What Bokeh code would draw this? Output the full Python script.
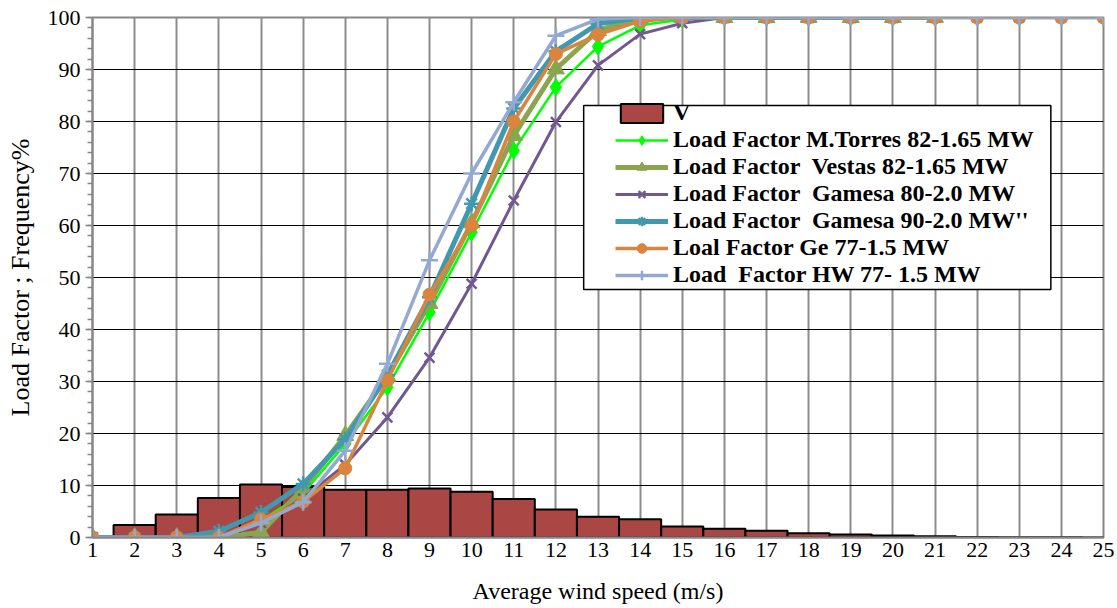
from bokeh.plotting import figure
from bokeh.models import (Range1d, SingleIntervalTicker, FixedTicker, Legend,
                          LegendItem, BoxAnnotation)
from bokeh.embed import file_html
from bokeh.resources import INLINE

# ---------------- data ----------------
wind_speed = list(range(1, 26))
freq_v = [0.3, 2.4, 4.4, 7.6, 10.2, 9.7, 9.2, 9.2, 9.4, 8.8, 7.4, 5.4, 4.0,
          3.5, 2.1, 1.7, 1.3, 0.8, 0.6, 0.4, 0.25, 0.1, 0.05, 0.03, 0.02]

lf_mtorres = [0, 0, 0, 0, 3.2, 8.5, 18.0, 28.9, 43.3, 58.7, 74.4, 86.6, 94.4,
              98.5, 99.6, 100, 100, 100, 100, 100, 100, 100, 100, 100, 100]
lf_vestas = [0, 0, 0, 0, 1.0, 9.4, 19.6, 31.0, 45.0, 60.5, 77.3, 90.1, 97.5,
             100, 100, 100, 100, 100, 100, 100, 100]
lf_gamesa80 = [0, 0, 0, 0, 2.8, 7.5, 14.0, 23.1, 34.6, 48.8, 64.8, 79.9, 90.8,
               96.8, 98.9, 100, 100, 100, 100, 100, 100, 100, 100, 100, 100]
lf_gamesa90 = [0, 0, 0, 1.2, 4.8, 10.3, 18.9, 31.2, 46.2, 64.2, 82.5, 93.5, 98.8,
               100, 100, 100, 100, 100, 100, 100]
lf_ge = [0, 0, 0, 0, 3.5, 6.9, 13.3, 30.2, 46.7, 60.0, 80.0, 93.0, 96.7,
         99.3, 100, 100, 100, 100, 100, 100, 100, 100, 100, 100, 100]
lf_hw = [0, 0, 0, 0, 2.8, 6.8, 16.7, 33.4, 53.3, 70.0, 83.7, 96.5, 99.7,
         100, 100, 100, 100, 100, 100, 100, 100, 100, 100, 100, 100]

labels = ["V",
          "Load Factor M.Torres 82-1.65 MW",
          "Load Factor  Vestas 82-1.65 MW",
          "Load Factor  Gamesa 80-2.0 MW",
          "Load Factor  Gamesa 90-2.0 MW''",
          "Loal Factor Ge 77-1.5 MW",
          "Load  Factor HW 77- 1.5 MW"]

x_label = "Average wind speed (m/s)"
y_label = "Load Factor ; Frequency%"

# legend box extent (data units)
legend_box = dict(left=12.66, right=23.75, bottom=47.7, top=83.1)

FONT = "Liberation Serif"

p = figure(width=1115, height=608, output_backend="svg", toolbar_location=None,
           x_range=Range1d(1, 25), y_range=Range1d(0, 100),
           min_border_left=92, min_border_right=12, min_border_top=17,
           min_border_bottom=71)

p.outline_line_color = "#868686"
p.outline_line_width = 2
p.background_fill_color = "white"

# grids
p.xgrid.ticker = FixedTicker(ticks=wind_speed)
p.xgrid.grid_line_color = "#8c8c8c"
p.xgrid.grid_line_width = 2
p.ygrid.grid_line_color = "black"
p.ygrid.grid_line_width = 1

# axes
p.xaxis.ticker = FixedTicker(ticks=wind_speed)
p.yaxis.ticker = SingleIntervalTicker(interval=10, num_minor_ticks=5)
for ax in (p.xaxis[0], p.yaxis[0]):
    ax.major_label_text_font = FONT
    ax.major_label_text_font_size = "22px"
    ax.major_label_text_color = "black"
    ax.major_label_text_line_height = 1.0
    ax.axis_label_text_font = FONT
    ax.axis_label_text_font_style = "normal"
    ax.axis_label_text_color = "black"
    ax.axis_label_text_line_height = 1.0
    ax.axis_line_color = "#868686"
    ax.axis_line_width = 2
    ax.major_tick_line_color = "#868686"
    ax.minor_tick_line_color = "#868686"
    ax.major_tick_line_width = 1.5
    ax.minor_tick_line_width = 1.5

p.xaxis.axis_label = x_label
p.yaxis.axis_label = y_label
p.xaxis.axis_label_text_font_size = "24px"
p.yaxis.axis_label_text_font_size = "26px"
p.xaxis.major_tick_out = 0
p.xaxis.major_tick_in = 0
p.xaxis.minor_tick_out = 0
p.xaxis.minor_tick_in = 0
p.xaxis.major_label_standoff = 5
p.xaxis.axis_label_standoff = 18
p.yaxis.major_tick_out = 7
p.yaxis.major_tick_in = 0
p.yaxis.minor_tick_out = 5
p.yaxis.minor_tick_in = 0
p.yaxis.major_label_standoff = 5
p.yaxis.axis_label_standoff = 10

# bars
r_bar = p.vbar(x=wind_speed, top=freq_v, width=1.0, fill_color="#AA4643",
               line_color="black", line_width=2)

series = [
    (lf_mtorres, "#00FF00", 2.5, "diamond", 17),
    (lf_vestas, "#89A54E", 5, "triangle", 17),
    (lf_gamesa80, "#71588F", 3, "x", 14),
    (lf_gamesa90, "#4198AF", 5, "asterisk", 15),
    (lf_ge, "#DB843D", 3.5, "circle", 13),
    (lf_hw, "#93A9CF", 3.5, "cross", 17),
]

items = [LegendItem(label=labels[0], renderers=[r_bar])]
for (vals, col, lw, mk, sz), lab in zip(series, labels[1:]):
    xs = wind_speed[:len(vals)]
    rl = p.line(xs, vals, line_color=col, line_width=lw, line_join="round")
    if mk in ("x", "asterisk", "cross"):
        rs = p.scatter(xs, vals, marker=mk, size=sz, line_color=col,
                       line_width=2.5, fill_color=col)
    else:
        rs = p.scatter(xs, vals, marker=mk, size=sz, line_color=col,
                       fill_color=col)
    items.append(LegendItem(label=lab, renderers=[rl, rs]))

box = BoxAnnotation(left=legend_box["left"], right=legend_box["right"],
                    bottom=legend_box["bottom"], top=legend_box["top"],
                    fill_color="white", fill_alpha=1.0,
                    line_color="black", line_width=1.5, line_alpha=1.0)
p.add_layout(box)

legend = Legend(items=items, location=(521, 247),
                label_text_font=FONT, label_text_font_style="bold",
                label_text_font_size="24px", label_text_color="black",
                glyph_width=53, glyph_height=24, label_height=24,
                spacing=0, padding=2, label_standoff=5,
                background_fill_alpha=0, border_line_alpha=0)
p.add_layout(legend)

open("out.html", "w").write(file_html(p, INLINE))
